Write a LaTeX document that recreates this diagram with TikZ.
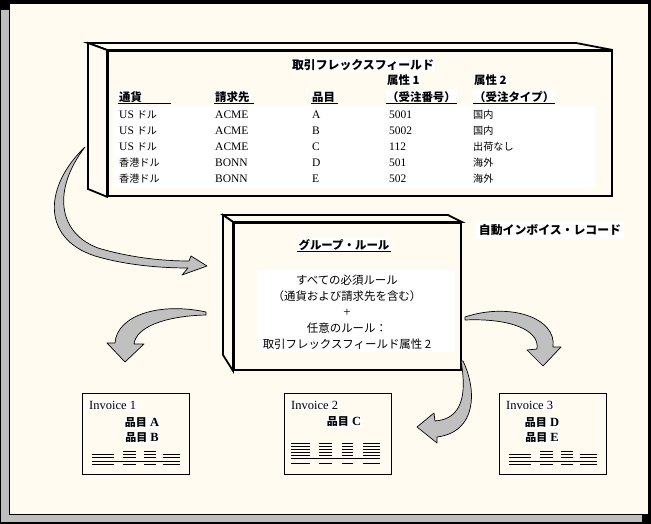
\documentclass[tikz,border=0pt]{standalone}
\usepackage{fontspec}
\setmainfont{Liberation Serif}
\newfontfamily\jp[Scale=0.88,AutoFakeSlant=0.2]{Noto Sans CJK JP}
\definecolor{cream}{RGB}{255,251,240}
\definecolor{arrowgray}{RGB}{192,192,192}
\definecolor{shadowgray}{RGB}{190,190,190}
\tikzset{
  front/.style={draw, line width=1.8pt, fill=cream, anchor=north west, inner sep=0pt},
  slab/.style={draw, line width=1.8pt, line join=miter, fill=cream},
  cell/.style={anchor=west, inner sep=1pt, font=\fontsize{11.5}{14}\selectfont},
  head/.style={anchor=west, inner sep=1pt, fill=white, font=\jp\bfseries\fontsize{13}{15}\selectfont},
  uline/.style={line width=0.8pt},
  rulebody/.style={align=center, inner sep=0pt, font=\jp\fontsize{13}{16}\selectfont},
  blockarrow/.style={fill=arrowgray, draw=black, line width=0.7pt, line join=round},
  invoice/.style={draw, line width=0.8pt, fill=cream, anchor=north west, minimum width=107pt, minimum height=81pt, inner sep=0pt},
  invtext/.style={anchor=west, inner sep=1pt, fill=white, font=\fontsize{12.5}{14}\selectfont},
  item/.style={inner sep=1pt, fill=white, font=\bfseries\fontsize{12.5}{15}\selectfont},
  invline/.style={line width=0.6pt}
}
\begin{document}
\begin{tikzpicture}[x=1pt,y=-1pt]
\useasboundingbox (0,0) rectangle (651,524);
% frame with shadow
\fill[black] (0,0) rectangle (651,524);
\fill[shadowgray] (1,10) rectangle (642,522);
\fill[black] (9,3) rectangle (649,515);
\fill[cream] (10,4) rectangle (648,514);

% flexfield table slab
\node[front, minimum width=504pt, minimum height=145pt] (flex) at (107,50) {};
\draw[slab] (flex.north west) -- ++(-19,-7) -- ++(488,0) -- (flex.north east) -- cycle;
\draw[slab] (flex.north west) -- ++(-19,-7) -- ++(0,146) -- (flex.south west) -- cycle;
\fill[white] (113,106) rectangle (595,188);

\node[head, anchor=center, font=\jp\bfseries\fontsize{13.5}{15}\selectfont] (title) at (363,65) {取引フレックスフィールド};
\node[head] (attr1) at (386,80) {属性 1};
\node[head] (attr2) at (473,80) {属性 2};
\node[head] (cur) at (118,97) {通貨};
\node[head] (bill) at (214,97) {請求先};
\node[head] (itm) at (311,97) {品目};
\node[head] (ord) at (386,97) {（受注番号）};
\node[head] (otype) at (473,97) {（受注タイプ）};
\draw[uline] (cur.south west) -- ++(53,0);
\draw[uline] (bill.south west) -- ++(40,0);
\draw[uline] (itm.south west) -- ++(27,0);
\draw[uline] (ord.south west) -- (ord.south east);
\draw[uline] (otype.south west) -- (otype.south east);

\foreach \c/\b/\i/\n/\t [count=\r] in {
  {US {\jp ドル}}/ACME/A/5001/国内,
  {US {\jp ドル}}/ACME/B/5002/国内,
  {US {\jp ドル}}/ACME/C/112/出荷なし,
  {{\jp 香港ドル}}/BONN/D/501/海外,
  {{\jp 香港ドル}}/BONN/E/502/海外}{
  \node[cell] (cur\r) at (118,99+16*\r) {\c};
  \node[cell] (bill\r) at (214,99+16*\r) {\b};
  \node[cell] (itm\r) at (311,99+16*\r) {\i};
  \node[cell] (ord\r) at (388,99+16*\r) {\n};
  \node[cell] (otype\r) at (472,99+16*\r) {{\jp\t}};
}

% group rule slab
\node[front, minimum width=227pt, minimum height=147pt] (grpbox) at (233,222) {};
\draw[slab] (grpbox.north west) -- ++(-10,-7) -- ++(225,0) -- (grpbox.north east) -- cycle;
\draw[slab] (grpbox.north west) -- ++(-10,-7) -- ++(0,140) -- (grpbox.south west) -- cycle;
\node[head, anchor=center, font=\jp\bfseries\itshape\fontsize{13}{15}\selectfont] (grp) at (344,245) {グループ・ルール};
\draw[uline] (grp.south west) -- (grp.south east);
\fill[white] (257,270) rectangle (455,352);
\node[rulebody] (rules) at (347,312) {すべての必須ルール\\（通貨および請求先を含む）\\{\rmfamily +}\\任意のルール：\\取引フレックスフィールド属性 2};

\node[head, anchor=center, inner sep=3pt, font=\jp\bfseries\fontsize{13.5}{15}\selectfont] (auto) at (550,230) {自動インボイス・レコード};

% invoices
\node[invoice] (inv1) at (82,393) {};
\node[invoice] (inv2) at (284,393) {};
\node[invoice] (inv3) at (499,393) {};
\node[invtext] (inv1t) at (88,405) {Invoice 1};
\node[invtext] (inv2t) at (290,405) {Invoice 2};
\node[invtext] (inv3t) at (505,405) {Invoice 3};
\node[item] (ia) at (142,423) {{\jp 品目} A};
\node[item] (ib) at (142,438) {{\jp 品目} B};
\node[item] (ic) at (344,422) {{\jp 品目} C};
\node[item] (id) at (542,423) {{\jp 品目} D};
\node[item] (ie) at (542,438) {{\jp 品目} E};

\foreach \inv in {inv1,inv3}{
  \begin{scope}[shift={(\inv.north west)}]
  \foreach \a/\b in {10/32,41/54,62/74,81/98}
    \draw[invline] (\a,61) -- (\b,61) (\a,64) -- (\b,64) (\a,71) -- (\b,71);
  \foreach \a/\b in {41/54,62/74}
    \draw[invline] (\a,58) -- (\b,58);
  \draw[invline] (10,68) -- (98,68);
  \end{scope}
}
\begin{scope}[shift={(inv2.north west)}]
\foreach \a/\b in {7/26,35/48,58/69,79/96}
  \foreach \y in {50,53,56,59,62,70}
    \draw[invline] (\a,\y) -- (\b,\y);
\draw[invline] (7,65) -- (96,65);
\end{scope}

% curved block arrows
\draw[blockarrow] (85,147) .. controls (45,185) and (40,238) .. (95,256)
  .. controls (125,265) and (160,268) .. (188,268) -- (182,275) -- (207,266)
  -- (191,256) -- (189,261) .. controls (160,261) and (128,257) .. (98,248)
  .. controls (58,233) and (52,190) .. (85,147) -- cycle;
\draw[blockarrow] (206,312) .. controls (160,302) and (117,315) .. (115,343)
  -- (107,343) -- (125,362) -- (144,344) -- (134,344)
  .. controls (136,327) and (165,316) .. (206,315) -- cycle;
\draw[blockarrow] (465,317) .. controls (510,302) and (557,318) .. (553,347)
  -- (561,347) -- (543,366) -- (527,350) -- (537,349)
  .. controls (540,330) and (510,318) .. (465,320) -- cycle;
\draw[blockarrow] (463,361) .. controls (477,390) and (477,432) .. (437,437)
  -- (437,443) -- (417,427) -- (434,413) -- (435,421)
  .. controls (462,419) and (467,395) .. (461,361) -- cycle;
\end{tikzpicture}
\end{document}
